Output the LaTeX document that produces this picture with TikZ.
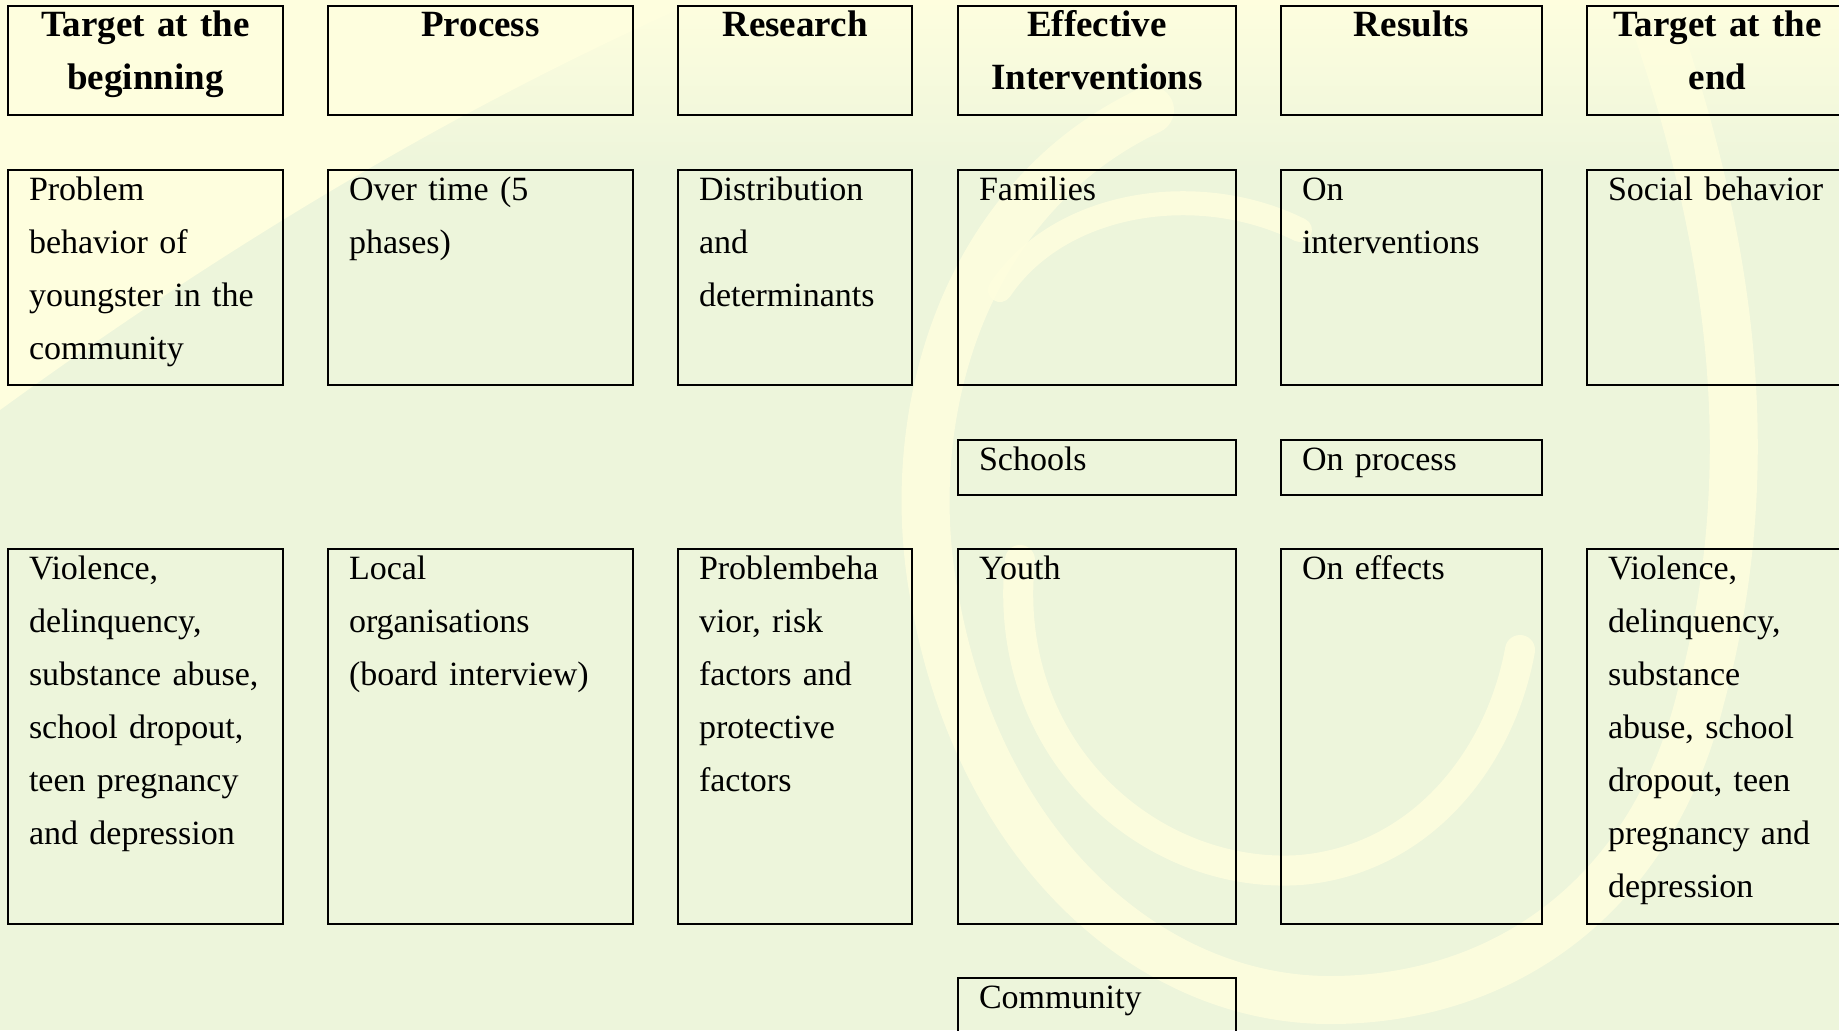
\documentclass[tikz,border=0pt]{standalone}
\usepackage{fontspec}
\setmainfont{Liberation Serif}
\usepackage{tikz}
\usepackage{xcolor}
\definecolor{bggreen}{RGB}{237,245,219}
\definecolor{bgyellow}{RGB}{254,254,222}

\begin{document}
\begin{tikzpicture}[x=0.5pt, y=-0.5pt,
		cell/.style={draw=black, line width=1.1pt, outer sep=0pt, anchor=north west, inner xsep=10.5pt, inner ysep=0pt, align=left, text height=15pt, font=\fontsize{17}{26.5}\selectfont},
		head/.style={cell, align=center, font=\fontsize{18.5}{26.5}\selectfont\bfseries},
		swirl/.style={bgyellow, opacity=0.85, line cap=round}]
			\useasboundingbox (0,0) rectangle (1839,1030);
			\clip (0,0) rectangle (1839,1030);
			\fill[bggreen] (0,0) rectangle (1839,1030);
			
			\shade[top color=bgyellow, bottom color=bggreen] (0,0) rectangle (1839,170);
			\fill[bgyellow] (0,0) -- (700,0) .. controls (450,110) and (220,250) .. (0,410) -- cycle;
			\draw[swirl, line width=24pt] (1150,110) .. controls (960,200) and (900,420) .. (935,600) .. controls (980,850) and (1150,1000) .. (1330,1000) .. controls (1500,1000) and (1650,900) .. (1700,700) .. controls (1760,480) and (1740,250) .. (1640,-20);
			\draw[swirl, line width=15pt] (1020,560) .. controls (1000,750) and (1150,880) .. (1300,870) .. controls (1420,860) and (1500,760) .. (1520,650);
			\draw[swirl, line width=12pt] (1000,290) .. controls (1060,200) and (1200,180) .. (1300,230);
			
			\node[head, text width=116.5pt, text depth=39.5pt] (hBegin) at (8,6) {Target at the\\beginning};
			\node[head, text width=131.5pt, text depth=39.5pt] (hProcess) at (328,6) {Process};
			\node[head, text width=96pt, text depth=39.5pt] (hResearch) at (678,6) {Research};
			\node[head, text width=118pt, text depth=39.5pt] (hEffective) at (958,6) {Effective\\Interventions};
			\node[head, text width=109.5pt, text depth=39.5pt] (hResults) at (1281,6) {Results};
			\node[head, text width=109.5pt, text depth=39.5pt] (hEnd) at (1587,6) {Target at the\\end};
			
			\node[cell, text width=116.5pt, text depth=92.5pt] (problem) at (8,170) {Problem\\behavior of\\youngster in the\\community};
			\node[cell, text width=131.5pt, text depth=92.5pt] (overTime) at (328,170) {Over time (5\\phases)};
			\node[cell, text width=96pt, text depth=92.5pt] (distrib) at (678,170) {Distribution\\and\\determinants};
			\node[cell, text width=118pt, text depth=92.5pt] (families) at (958,170) {Families};
			\node[cell, text width=109.5pt, text depth=92.5pt] (onInterv) at (1281,170) {On\\interventions};
			\node[cell, text width=109.5pt, text depth=92.5pt] (social) at (1587,170) {Social behavior};
			
			\node[cell, text width=118pt, text depth=12.5pt] (schools) at (958,440) {Schools};
			\node[cell, text width=109.5pt, text depth=12.5pt] (onProcess) at (1281,440) {On process};
			
			\node[cell, text width=116.5pt, text depth=172.5pt] (violBegin) at (8,549) {Violence,\\delinquency,\\substance~abuse,\\school dropout,\\teen pregnancy\\and depression};
			\node[cell, text width=131.5pt, text depth=172.5pt] (localOrg) at (328,549) {Local\\organisations\\(board interview)};
			\node[cell, text width=96pt, text depth=172.5pt] (riskFactors) at (678,549) {Problembeha\\vior, risk\\factors and\\protective\\factors};
			\node[cell, text width=118pt, text depth=172.5pt] (youth) at (958,549) {Youth};
			\node[cell, text width=109.5pt, text depth=172.5pt] (onEffects) at (1281,549) {On effects};
			\node[cell, text width=109.5pt, text depth=172.5pt] (violEnd) at (1587,549) {Violence,\\delinquency,\\substance\\abuse, school\\dropout, teen\\pregnancy and\\depression};
			
			\node[cell, text width=118pt, text depth=25pt] (community) at (958,978) {Community};
		\end{tikzpicture}
\end{document}
